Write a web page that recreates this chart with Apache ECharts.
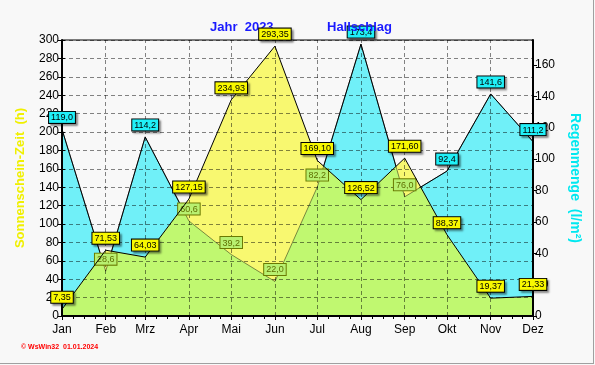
<!DOCTYPE html>
<html>
<head>
<meta charset="utf-8">
<script src="https://cdn.jsdelivr.net/npm/echarts@6/dist/echarts.min.js"></script>
<style>
html,body{margin:0;padding:0;background:#f8f8f8;}
#main{width:595px;height:365px;}
</style>
</head>
<body>
<div id="main"></div>
<script>
// ---- data ----
const monthNames = ['Jan','Feb','Mrz','Apr','Mai','Jun','Jul','Aug','Sep','Okt','Nov','Dez'];
const monthDays = [0,31,59,90,120,151,181,212,243,273,304,334];
const sunHours = [7.35,71.53,64.03,127.15,234.93,293.35,169.10,126.52,171.60,88.37,19.37,21.33];
const rainMM = [119.0,28.6,114.2,60.6,39.2,22.0,82.2,173.4,76.0,92.4,141.6,111.2];
const sunTicks = {min:0,max:300,interval:20};
const rainTicks = {min:0,max:176,interval:20};

const quarterDays = [];
for (let i = 0; i < monthDays.length - 1; i++) {
  for (let k = 1; k < 4; k++) quarterDays.push(monthDays[i] + k * (monthDays[i+1] - monthDays[i]) / 4);
}

const C_YEL_AREA = '#f8f870', C_CYA_AREA = '#70f0f8', C_GRN = '#c0f870';
const gridColor = 'rgba(0,0,0,0.48)';
const fmt = (v, d) => v.toFixed(d).replace('.', ',');

const chart = echarts.init(document.getElementById('main'), null, {renderer:'canvas'});

const sunData = sunHours.map((v,i)=>[monthDays[i], v]);
const rainData = rainMM.map((v,i)=>{
  const under = (v / rainTicks.max) < (sunHours[i] / sunTicks.max);
  const item = {value:[monthDays[i], v]};
  if (under) {
    item.label = {backgroundColor:'#b8f070', borderColor:'#6a7a00', color:'#5e6e00', shadowColor:'rgba(0,0,0,0)'};
  }
  return item;
});

const baseLabel = {
  show:true, position:'top', distance:6,
  fontSize:9, fontFamily:'Liberation Sans, Arial, sans-serif', color:'#000',
  borderColor:'#000', borderWidth:1, padding:[1,2,0,2], lineHeight:10,
  shadowColor:'rgba(0,0,0,0.35)', shadowBlur:2, shadowOffsetX:2, shadowOffsetY:2
};

function renderOverlap(params, api) {
  if (params.dataIndex !== 0) return null;
  const n = monthDays.length;
  const P = [];
  for (let i = 0; i < n; i++) {
    const ps = api.coord([monthDays[i], sunHours[i]]);
    const yr = chart.convertToPixel({yAxisIndex:1}, rainMM[i]);
    P.push([ps[0], ps[1], yr]);
  }
  const y0 = api.coord([0, 0])[1];
  const pts = [];
  for (let i = 0; i < n; i++) {
    const [x, ys, yr] = P[i];
    pts.push([x, Math.max(ys, yr)]);
    if (i < n - 1) {
      const [x2, ys2, yr2] = P[i+1];
      const d1 = ys - yr, d2 = ys2 - yr2;
      if (d1 * d2 < 0) {
        const t = d1 / (d1 - d2);
        pts.push([x + t * (x2 - x), ys + t * (ys2 - ys)]);
      }
    }
  }
  pts.push([P[n-1][0], y0]);
  pts.push([P[0][0], y0]);
  return {type:'polygon', shape:{points:pts}, style:{fill:C_GRN, stroke:null}};
}

const option = {
  animation:false,
  backgroundColor:'#f8f8f8',
  title:[
    {text:'Jahr  2023', left:205, top:16, textStyle:{color:'#1a1aff', fontSize:13, fontWeight:'bold', fontFamily:'Liberation Sans, Arial, sans-serif'}},
    {text:'Hallschlag', left:322, top:16, textStyle:{color:'#1a1aff', fontSize:13, fontWeight:'bold', fontFamily:'Liberation Sans, Arial, sans-serif'}}
  ],
  grid:{left:62, right:62, top:40, bottom:49, show:true, borderColor:'#000', borderWidth:1, backgroundColor:'transparent'},
  xAxis:[
    {type:'value', min:0, max:334, position:'bottom', z:4,
     axisLine:{show:true, onZero:false, lineStyle:{color:'#000', width:2}},
     axisTick:{show:true, customValues:monthDays, length:4, lineStyle:{color:'#000'}},
     axisLabel:{show:true, customValues:monthDays, margin:8, fontSize:12, color:'#000', fontFamily:'Liberation Sans, Arial, sans-serif',
       formatter:(v)=>{const i = monthDays.indexOf(v); return i >= 0 ? monthNames[i] : '';}},
     splitLine:{show:false}},
    {type:'value', min:0, max:334, position:'bottom', z:4,
     axisLine:{show:false}, axisTick:{show:true, customValues:quarterDays, length:3, lineStyle:{color:'#000'}},
     axisLabel:{show:false}, splitLine:{show:false}}
  ],
  yAxis:[
    {type:'value', min:sunTicks.min, max:sunTicks.max, interval:sunTicks.interval, position:'left', z:4,
     name:'Sonnenschein-Zeit  (h)', nameLocation:'middle', nameRotate:90, nameGap:35,
     nameTextStyle:{color:'#f0f000', fontSize:13, fontWeight:'bold', fontFamily:'Liberation Sans, Arial, sans-serif'},
     axisLine:{show:true, onZero:false, lineStyle:{color:'#000', width:2}},
     axisTick:{show:true, length:4, lineStyle:{color:'#000'}},
     axisLabel:{fontSize:12, color:'#000', margin:3, fontFamily:'Liberation Sans, Arial, sans-serif'},
     splitLine:{show:true, lineStyle:{color:gridColor, type:[4,3], width:1}}},
    {type:'value', min:rainTicks.min, max:rainTicks.max, interval:rainTicks.interval, position:'right', z:4,
     name:'Regenmenge  (l/m²)', nameLocation:'middle', nameRotate:-90, nameGap:35,
     nameTextStyle:{color:'#00e8f0', fontSize:14, fontWeight:'bold', fontFamily:'Liberation Sans, Arial, sans-serif'},
     axisLine:{show:true, onZero:false, lineStyle:{color:'#000', width:2}},
     axisTick:{show:true, length:4, lineStyle:{color:'#000'}},
     axisLabel:{fontSize:12, color:'#000', margin:2, showMaxLabel:false, fontFamily:'Liberation Sans, Arial, sans-serif'},
     splitLine:{show:false}},
    {type:'value', min:sunTicks.min, max:sunTicks.max, interval:sunTicks.interval, position:'right', z:4,
     axisLine:{show:false}, axisTick:{show:true, length:3, lineStyle:{color:'#000'}},
     axisLabel:{show:false}, splitLine:{show:false}}
  ],
  series:[
    {type:'line', name:'rainArea', xAxisIndex:0, yAxisIndex:1, data:rainData.map(d=>d.value), z:1,
     symbol:'none', lineStyle:{color:'#000', width:1}, areaStyle:{color:C_CYA_AREA, opacity:1}, silent:true},
    {type:'line', name:'sunArea', xAxisIndex:0, yAxisIndex:0, data:sunData, z:2,
     symbol:'none', lineStyle:{width:0, color:'rgba(0,0,0,0)'}, areaStyle:{color:C_YEL_AREA, opacity:1}, silent:true},
    {type:'custom', name:'overlap', xAxisIndex:0, yAxisIndex:0, data:[[0,0]], z:3, renderItem:renderOverlap, silent:true, clip:false},
    {type:'line', name:'grid', xAxisIndex:0, yAxisIndex:0, data:[], z:4, silent:true,
     markLine:{symbol:'none', silent:true, label:{show:false},
       lineStyle:{color:gridColor, type:[4,3], width:1},
       data:monthDays.slice(1, -1).map(d=>({xAxis:d}))}},
    {type:'line', name:'rainLine', xAxisIndex:0, yAxisIndex:1, data:rainData, z:5,
     symbol:'circle', symbolSize:1, itemStyle:{color:'rgba(0,0,0,0)'},
     lineStyle:{color:'rgba(0,0,0,0.45)', width:1},
     label:Object.assign({}, baseLabel, {backgroundColor:'#20f0f8', formatter:(p)=>fmt(p.value[1],1)}), silent:true},
    {type:'line', name:'sunLine', xAxisIndex:0, yAxisIndex:0, data:sunData, z:6,
     symbol:'circle', symbolSize:1, itemStyle:{color:'rgba(0,0,0,0)'},
     lineStyle:{color:'#000', width:1},
     label:Object.assign({}, baseLabel, {backgroundColor:'#f8f800', formatter:(p)=>fmt(p.value[1],2)}), silent:true}
  ],
  graphic:[
    {type:'text', left:21, top:344, z:10, style:{text:'© WsWin32  01.01.2024', fill:'#ff0000', font:'bold 7px "Liberation Sans", Arial, sans-serif'}},
    {type:'line', z:10, shape:{x1:0, y1:363.5, x2:594, y2:363.5}, style:{stroke:'#a0a0a0', lineWidth:1}},
    {type:'line', z:10, shape:{x1:593.5, y1:0, x2:593.5, y2:364}, style:{stroke:'#a0a0a0', lineWidth:1}}
  ]
};
chart.setOption(option);
</script>
</body>
</html>
